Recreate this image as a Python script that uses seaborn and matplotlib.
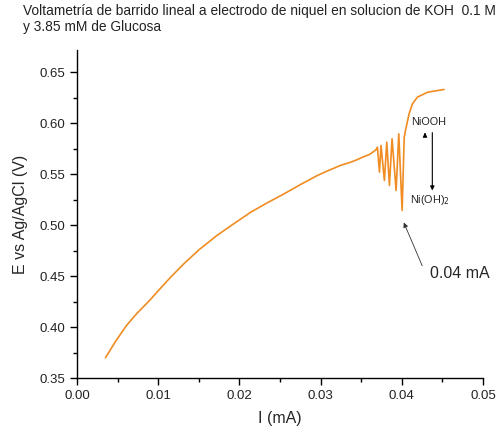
import matplotlib
matplotlib.use("Agg")
import matplotlib.pyplot as plt
from matplotlib.ticker import MultipleLocator, FormatStrFormatter
import seaborn as sns
import pandas as pd

# Linear sweep voltammetry trace: current (mA) vs potential (V vs Ag/AgCl)
current_ma = [0.0035, 0.0048, 0.0061, 0.0074, 0.0090, 0.0100, 0.0115, 0.0131,
              0.0150, 0.0172, 0.0190, 0.0214, 0.0235, 0.0255, 0.0275, 0.0296,
              0.0310, 0.0325, 0.0337, 0.0345, 0.0352, 0.0360, 0.0368, 0.0370,
              0.03725, 0.03744, 0.03786, 0.03815, 0.03848, 0.0388, 0.0393,
              0.03963, 0.04004, 0.0403, 0.0405, 0.0409, 0.04132, 0.04193,
              0.04317, 0.0452]
potential_v = [0.3703, 0.387, 0.402, 0.414, 0.427, 0.436, 0.449, 0.462,
               0.476, 0.490, 0.500, 0.513, 0.5225, 0.531, 0.540, 0.549,
               0.554, 0.559, 0.562, 0.5645, 0.567, 0.5695, 0.574, 0.5768,
               0.5523, 0.5784, 0.5441, 0.5817, 0.5392, 0.585, 0.5343,
               0.5899, 0.5147, 0.5866, 0.5948, 0.6095, 0.6193, 0.6258,
               0.6306, 0.6333]

title_text = ("Voltametría de barrido lineal a electrodo de niquel en solucion de KOH  0.1 M\n"
              "y 3.85 mM de Glucosa")
x_label = "I (mA)"
y_label = "E vs Ag/AgCl (V)"
peak_label = "0.04 mA"

df = pd.DataFrame({"I": current_ma, "E": potential_v})

sns.set_style("ticks")
plt.rcParams["font.family"] = ["Liberation Sans", "DejaVu Sans"]
plt.rcParams["xtick.direction"] = "out"
plt.rcParams["ytick.direction"] = "out"

fig = plt.figure(figsize=(4.99, 4.34), dpi=100)
ax = fig.add_axes([0.1543, 0.1279, 0.8136, 0.7569])

sns.lineplot(data=df, x="I", y="E", sort=False, color="#F08C22",
             linewidth=1.2, ax=ax, solid_joinstyle="round")

ax.set_xlim(0.0, 0.05)
ax.set_ylim(0.35, 0.672)
ax.xaxis.set_major_locator(MultipleLocator(0.01))
ax.xaxis.set_minor_locator(MultipleLocator(0.005))
ax.yaxis.set_major_locator(MultipleLocator(0.05))
ax.yaxis.set_minor_locator(MultipleLocator(0.025))
ax.xaxis.set_major_formatter(FormatStrFormatter("%.2f"))
ax.yaxis.set_major_formatter(FormatStrFormatter("%.2f"))
ax.tick_params(which="major", length=5, width=1, labelsize=9.5, colors="black",
               labelcolor="#222222")
ax.tick_params(which="minor", length=3, width=1, colors="black")
sns.despine(ax=ax)
for s in ("left", "bottom"):
    ax.spines[s].set_linewidth(1.0)
    ax.spines[s].set_color("black")

ax.set_xlabel(x_label, fontsize=11.5, labelpad=6)
ax.set_ylabel(y_label, fontsize=11.5, labelpad=8)

fig.text(0.046, 0.99, title_text, ha="left", va="top", fontsize=9.9,
         color="#222222", linespacing=1.15)

# Redox couple labels
ax.text(0.04331, 0.6018, "NiOOH", fontsize=7.8, ha="center", va="center")
ax.text(0.04341, 0.525, "Ni(OH)$_2$", fontsize=7.8, ha="center", va="center")
ax.annotate("", xy=(0.04376, 0.5316), xytext=(0.04376, 0.5937),
            arrowprops=dict(arrowstyle="-|>", color="black", lw=0.8,
                            mutation_scale=6))
ax.annotate("", xy=(0.04286, 0.5910), xytext=(0.04286, 0.5860),
            arrowprops=dict(arrowstyle="-|>", color="black", lw=0.8,
                            mutation_scale=6))

# Peak marker
ax.annotate("", xy=(0.04011, 0.5054), xytext=(0.04265, 0.458),
            arrowprops=dict(arrowstyle="-|>", color="#333333", lw=0.6,
                            mutation_scale=7))
ax.text(0.04717, 0.4534, peak_label, fontsize=11.5, ha="center", va="center")

fig.savefig("out.png", dpi=100)
